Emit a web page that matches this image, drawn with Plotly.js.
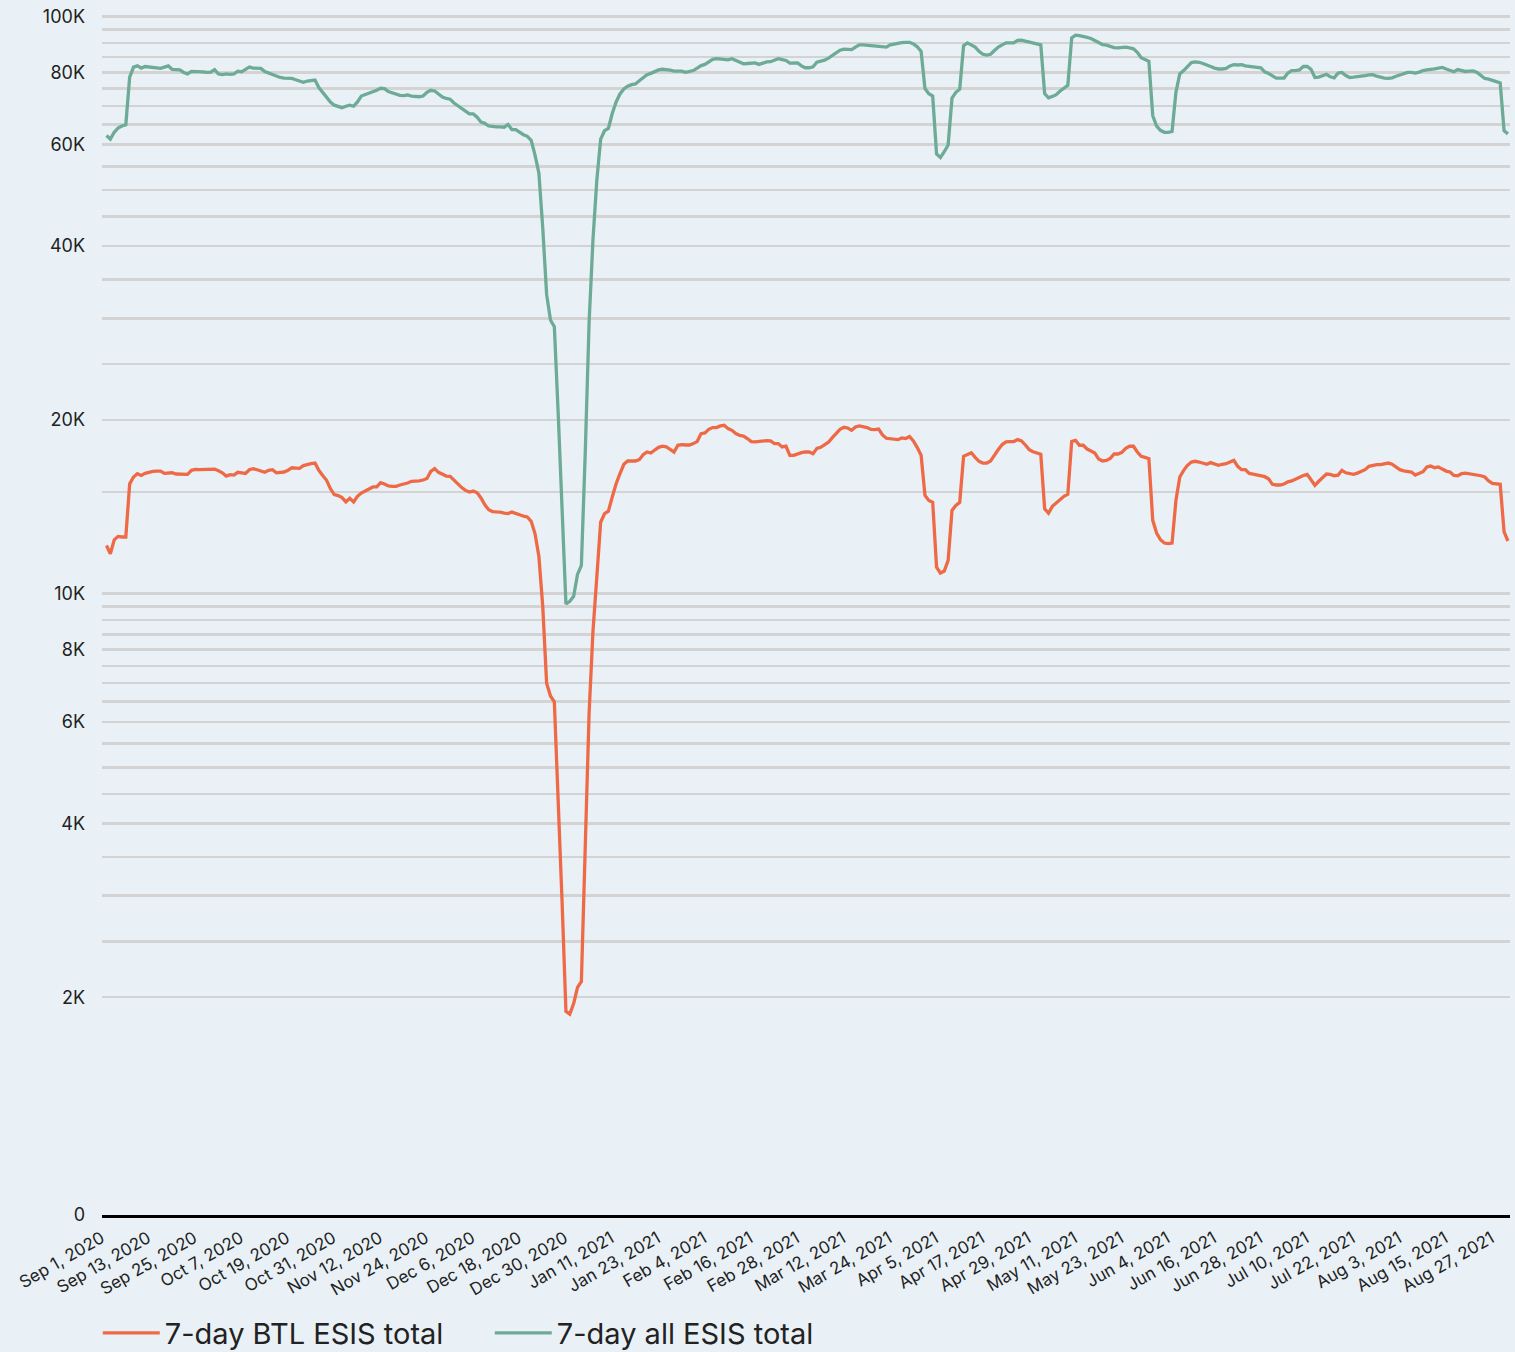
<!DOCTYPE html>
<html>
<head>
<meta charset="utf-8">
<script src="https://cdn.plot.ly/plotly-3.0.1.min.js"></script>
<style>
html,body{margin:0;padding:0;background:#e9f1f6;}
#chart{width:1515px;height:1352px;}
</style>
</head>
<body>
<div id="chart"></div>
<script>
// ---- data ----
const startDate = '2020-09-01';   // first daily value
const stepDays = 1;               // one value per day

const seriesNames = ['7-day BTL ESIS total', '7-day all ESIS total'];

const btlEsis = [
12120,11730,12400,12570,12540,12540,15500,15930,16140,16030,
16160,16230,16290,16310,16310,16160,16180,16200,16120,16120,
16120,16100,16360,16420,16400,16400,16420,16420,16440,16330,
16200,15990,16080,16050,16230,16200,16160,16400,16470,16400,
16310,16230,16360,16400,16200,16230,16250,16360,16530,16510,
16490,16670,16760,16800,16840,16360,16030,15720,15200,14850,
14790,14670,14420,14630,14420,14750,14940,15060,15160,15310,
15310,15570,15490,15370,15350,15350,15430,15470,15550,15660,
15660,15680,15740,15840,16290,16470,16230,16100,15990,15970,
15720,15470,15270,15100,15000,15060,14960,14650,14260,13980,
13880,13860,13850,13790,13770,13850,13760,13700,13630,13580,
13350,12700,11600,9500,7000,6650,6500,4490,2930,1890,
1870,1950,2080,2130,3500,6200,8600,10800,13300,13760,
13900,14710,15510,16140,16760,16980,16960,16980,17070,17410,
17600,17530,17740,17930,18010,17960,17790,17600,18080,18130,
18100,18100,18200,18350,18940,18990,19270,19400,19400,19530,
19580,19320,19190,18940,18810,18760,18570,18350,18320,18350,
18440,18420,18400,18200,18200,17960,18010,17370,17370,17480,
17550,17600,17600,17480,17860,17930,18150,18300,18640,18940,
19270,19420,19370,19190,19450,19530,19480,19400,19270,19240,
19290,18840,18590,18540,18490,18490,18620,18570,18720,18400,
17910,17370,14800,14510,14400,11120,10860,10950,11420,13940,
14220,14400,17300,17440,17550,17230,16960,16840,16840,16980,
17410,17770,18130,18320,18350,18350,18490,18400,18100,17770,
17620,17550,17440,14030,13790,14170,14360,14560,14750,14870,
18350,18440,18080,18080,17810,17670,17530,17110,16980,17020,
17160,17460,17460,17580,17860,18010,18010,17600,17300,17230,
17140,13400,12740,12400,12240,12210,12240,14500,15930,16360,
16690,16910,16960,16910,16840,16760,16870,16760,16690,16760,
16800,16910,17020,16620,16400,16400,16160,16120,16080,16030,
15950,15820,15470,15430,15430,15490,15620,15680,15800,15930,
16030,16100,15720,15410,15660,15890,16120,16100,16010,16050,
16360,16200,16140,16100,16180,16270,16400,16620,16690,16730,
16730,16760,16840,16760,16580,16400,16330,16310,16250,16050,
16140,16270,16580,16640,16530,16580,16440,16310,16250,16030,
16010,16140,16180,16140,16140,16100,16010,15930,15680,15530,
15490,15470,12800,12340
];

const allEsis = [
62200,61300,63000,64100,64600,64900,78500,81700,82100,81400,
81900,81800,81700,81500,81300,81700,82100,81000,80900,80800,
80000,79500,80300,80300,80200,80200,80000,80100,80900,79500,
79300,79500,79400,79500,80400,80200,81000,81700,81400,81300,
81300,80300,79800,79200,78800,78400,78200,78100,78100,77700,
77200,76900,77300,77500,77600,75300,73900,72700,71100,70200,
69800,69500,69900,70200,69900,71100,72800,73200,73500,74100,
74500,75100,75000,74100,73700,73500,73000,72900,73100,72800,
72700,72600,72800,73900,74500,74300,73400,72500,72100,71900,
70800,70000,69300,68600,67800,67800,66900,65600,65300,64600,
64400,64400,64400,64300,65000,63700,63700,63000,62400,62000,
61000,57500,53500,43000,33000,29800,29000,20500,14000,9600,
9700,9900,10800,11200,17500,29500,41000,52000,61300,63400,
64000,67900,71100,73400,74900,75700,76200,76400,77400,78400,
79300,79700,80200,80800,81000,80900,80700,80400,80300,80400,
80000,80200,80600,81400,82200,82600,83300,84300,84500,84400,
84200,84100,84500,84000,83300,82800,82900,82900,83100,82600,
83000,83400,83500,84000,84500,84200,83900,83000,83000,83100,
82100,81500,81500,81800,83300,83600,84000,84700,85500,86300,
87400,87800,87800,87600,88500,89300,89300,89200,88900,88800,
88800,88600,88500,89300,89600,89900,90100,90200,90200,89600,
88600,87000,75000,73500,72800,57800,57000,58300,59900,72200,
73900,74800,89000,90000,89300,88500,87000,86000,85700,86000,
87300,88500,89300,90000,90000,90000,90900,91000,90600,90200,
90000,89600,89300,73500,72300,72700,73200,74300,75300,76000,
91800,92800,92600,92400,92000,91600,90900,89900,89400,89200,
88600,88300,88200,88300,88500,88200,87900,86700,84800,84200,
83600,67300,64600,63500,63000,63000,63200,73900,79500,80600,
82100,83200,83400,83300,82900,82500,81900,81400,81100,81100,
81300,82100,82500,82400,82500,82100,82000,81900,81800,81500,
80200,79700,78900,78200,78200,78200,79800,80600,80600,80800,
81900,81900,81000,78400,78500,79000,79400,78600,78300,79800,
80000,79000,78400,78500,78600,78900,79000,79200,79300,78800,
78400,78200,78100,78300,78800,79200,79600,80000,80000,79800,
80100,80600,80800,80900,81100,81400,81600,81100,80600,80200,
80900,80700,80300,80400,80500,80000,78900,78100,77900,77600,
77100,76700,63400,62600
];

const xTickDates = [
'2020-09-01','2020-09-13','2020-09-25','2020-10-07','2020-10-19','2020-10-31',
'2020-11-12','2020-11-24','2020-12-06','2020-12-18','2020-12-30','2021-01-11',
'2021-01-23','2021-02-04','2021-02-16','2021-02-28','2021-03-12','2021-03-24',
'2021-04-05','2021-04-17','2021-04-29','2021-05-11','2021-05-23','2021-06-04',
'2021-06-16','2021-06-28','2021-07-10','2021-07-22','2021-08-03','2021-08-15',
'2021-08-27'
];

// y axis: the bottom of the log axis is labelled "0"
const yTickVals = [
839,
2000,2500,3000,3500,4000,4500,5000,5500,6000,6500,7000,7500,8000,8500,9000,9500,10000,
15000,20000,25000,30000,35000,40000,45000,50000,55000,60000,65000,70000,75000,80000,85000,90000,95000,100000
];
const yTickText = [
'0',
'2K','','','','4K','','','','6K','','','','8K','','','','10K',
'','20K','','','','40K','','','','60K','','','','80K','','','','100K'
];

// ---- chart ----
const FONT = 'Inter, "Noto Sans", sans-serif';
const BG = '#e9f1f6';
const colors = ['#ee6a46', '#6dab96'];

const traces = [
  { type:'scatter', mode:'lines', name: seriesNames[0], x0: startDate, dx: stepDays*86400000,
    y: btlEsis, line:{color:colors[0], width:3.3} },
  { type:'scatter', mode:'lines', name: seriesNames[1], x0: startDate, dx: stepDays*86400000,
    y: allEsis, line:{color:colors[1], width:3.3} }
];

const layout = {
  width:1515, height:1352,
  paper_bgcolor: BG, plot_bgcolor: BG,
  margin:{l:102, r:5, t:13, b:137, autoexpand:false},
  font:{family:FONT, color:'#222', size:16},
  showlegend:true,
  legend:{orientation:'h', x:-0.003, xanchor:'left', y:-0.077, yanchor:'top',
          font:{family:FONT, size:29, color:'#222'}, itemwidth:57,
          entrywidth:320, entrywidthmode:'pixels',
          bgcolor:'rgba(0,0,0,0)'},
  xaxis:{type:'date', range:['2020-08-30 20:00','2021-08-30 12:50'],
         tickvals:xTickDates, tickformat:'%b %-d, %Y', tickangle:-30,
         tickfont:{family:FONT, size:17, color:'#222'},
         ticklabelshift:-5, ticklabelstandoff:4,
         showgrid:false, zeroline:false, showline:true, linecolor:'#000', linewidth:3,
         ticks:''},
  yaxis:{type:'log', range:[Math.log10(839), 5.006],
         tickvals:yTickVals, ticktext:yTickText,
         tickfont:{family:FONT, size:18, color:'#222'},
         showgrid:true, gridcolor:'#d3d3d3', gridwidth:2.5,
         showline:false, zeroline:false, ticks:'', ticklabelstandoff:16}
};

Plotly.newPlot('chart', traces, layout, {displayModeBar:false, staticPlot:true});
</script>
</body>
</html>
